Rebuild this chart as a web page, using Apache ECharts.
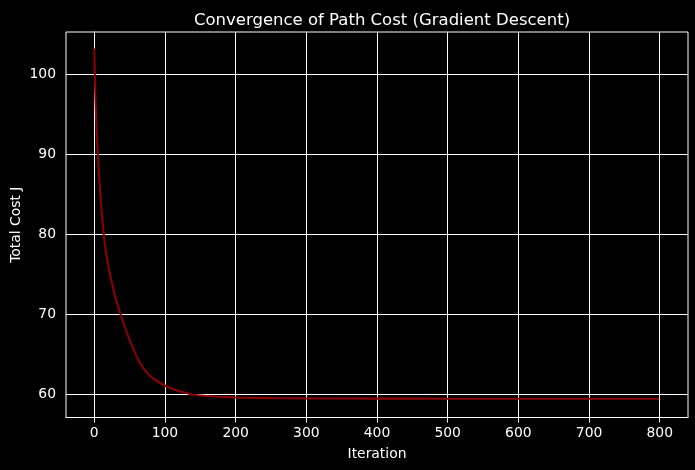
<!DOCTYPE html>
<html>
<head>
<meta charset="utf-8">
<script src="https://cdn.jsdelivr.net/npm/echarts@6/dist/echarts.min.js"></script>
<style>
  html, body { margin: 0; padding: 0; background: #000; }
  #chart { width: 695px; height: 470px; }
</style>
</head>
<body>
<div id="chart"></div>
<script>
// values
const iterations = [0, 1, 2, 3, 4, 5, 7, 10, 13, 16, 20, 25, 30, 34, 38, 42, 46, 50, 56, 63, 70, 80, 90, 100, 110, 120, 135, 150, 175, 200, 250, 300, 400, 500, 600, 700, 799];
const totalCost = [103.25, 99.3, 96.2, 93.8, 91.8, 90.0, 87.0, 83.3, 80.4, 78.1, 76.0, 73.9, 72.1, 70.9, 69.8, 68.7, 67.7, 66.8, 65.5, 64.2, 63.2, 62.2, 61.6, 61.1, 60.7, 60.4, 60.05, 59.85, 59.7, 59.6, 59.52, 59.49, 59.46, 59.45, 59.45, 59.45, 59.45];
const xTicks = [0, 100, 200, 300, 400, 500, 600, 700, 800];
const yTicks = [60, 70, 80, 90, 100];

const font = 'DejaVu Sans';
const chart = echarts.init(document.getElementById('chart'));

chart.setOption({
  backgroundColor: '#000',
  animation: false,
  title: {
    text: 'Convergence of Path Cost (Gradient Descent)',
    left: 377,
    top: 7,
    textAlign: 'center',
    textStyle: { color: '#fff', fontFamily: font, fontSize: 16.5, fontWeight: 'normal' }
  },
  grid: {
    left: 66, right: 7, top: 32, bottom: 52.5,
    outerBoundsMode: 'none',
    containLabel: false,
    show: true, borderColor: '#fff', borderWidth: 1, backgroundColor: '#000'
  },
  xAxis: {
    type: 'value',
    min: -40,
    max: 840,
    name: 'Iteration',
    nameLocation: 'middle',
    nameGap: 30,
    nameTextStyle: { color: '#fff', fontFamily: font, fontSize: 13.9 },
    axisLine: { show: true, lineStyle: { color: '#fff', width: 1 } },
    axisTick: { show: true, length: 5, customValues: xTicks, lineStyle: { color: '#fff', width: 1 } },
    axisLabel: { customValues: xTicks, margin: 9, color: '#fff', fontFamily: font, fontSize: 13.9 },
    splitLine: { show: true, lineStyle: { color: '#fff', width: 1 } }
  },
  yAxis: {
    type: 'value',
    min: 57.1,
    max: 105.3,
    name: 'Total Cost J',
    nameLocation: 'middle',
    nameGap: 43,
    nameMoveOverlap: false,
    nameTextStyle: { color: '#fff', fontFamily: font, fontSize: 13.9 },
    axisLine: { show: true, lineStyle: { color: '#fff', width: 1 } },
    axisTick: { show: true, length: 5, customValues: yTicks, lineStyle: { color: '#fff', width: 1 } },
    axisLabel: { customValues: yTicks, margin: 10, color: '#fff', fontFamily: font, fontSize: 13.9 },
    splitLine: { show: true, lineStyle: { color: '#fff', width: 1 } }
  },
  series: [{
    type: 'line',
    data: iterations.map((it, i) => [it, totalCost[i]]),
    showSymbol: false,
    smooth: 0.15,
    lineStyle: { color: '#8b0000', width: 2.1 },
    itemStyle: { color: '#8b0000' }
  }]
});
</script>
</body>
</html>
